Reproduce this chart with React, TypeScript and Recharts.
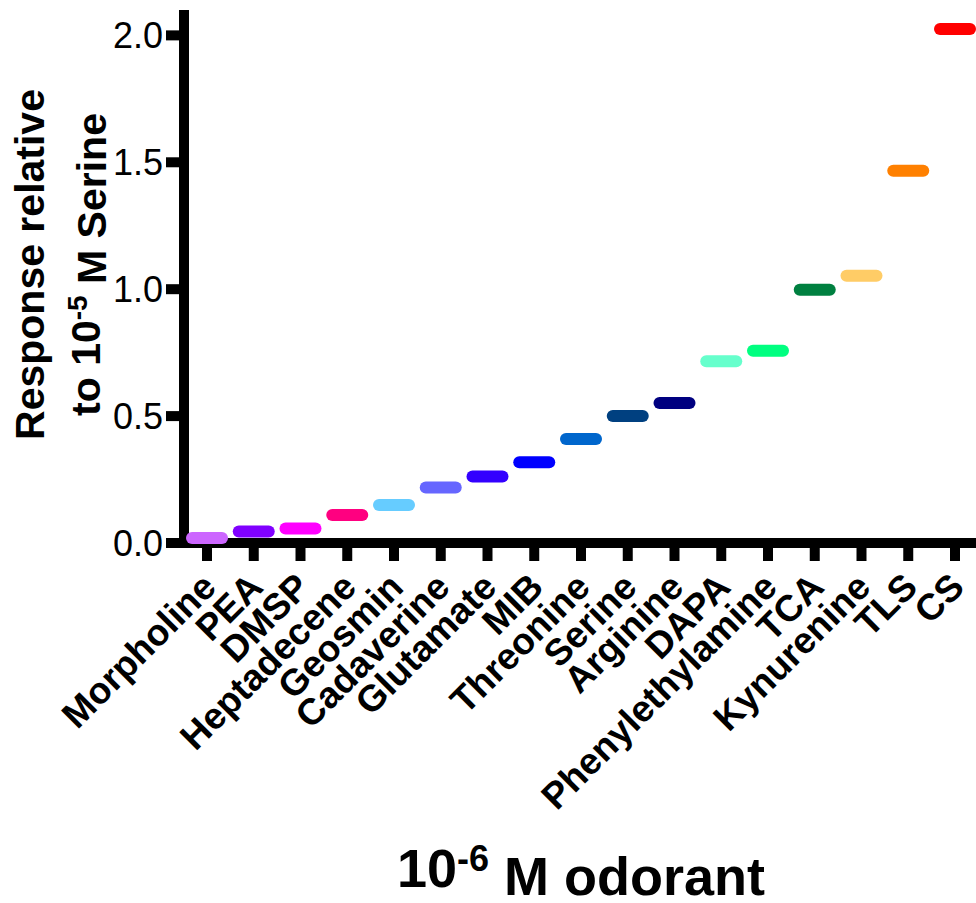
import React from 'react';
import { ComposedChart, Scatter, XAxis, YAxis, Cell } from 'recharts';

const categories = [
  'Morpholine', 'PEA', 'DMSP', 'Heptadecene', 'Geosmin', 'Cadaverine', 'Glutamate', 'MIB',
  'Threonine', 'Serine', 'Arginine', 'DAPA', 'Phenylethylamine', 'TCA', 'Kynurenine', 'TLS', 'CS',
];
const responses = [
  0.02, 0.045, 0.057, 0.11, 0.15, 0.219, 0.262, 0.318,
  0.41, 0.5, 0.552, 0.716, 0.757, 0.998, 1.053, 1.467, 2.025,
];
const colors = [
  '#CC66FF', '#8000FF', '#FF00FF', '#FF0080', '#66CCFF', '#6666FF', '#3300FF', '#0000FF',
  '#0066CC', '#004080', '#000080', '#66FFCC', '#00FF80', '#008040', '#FFCC66', '#FF8000', '#FF0000',
];
const yTicks = [0, 0.5, 1.0, 1.5, 2.0];

const data = categories.map((name, i) => ({ name, value: responses[i], color: colors[i] }));

const FONT = '"Liberation Sans", Arial, Helvetica, sans-serif';

function MeanLine(props: any) {
  const { cx, cy } = props;
  const color = props.payload?.color ?? props.fill;
  if (cx == null || cy == null) return null;
  return (
    <line x1={cx - 15} x2={cx + 15} y1={cy} y2={cy} stroke={color} strokeWidth={12} strokeLinecap="round" />
  );
}

function OdorantTick(props: any) {
  const { x, y, payload } = props;
  const ax = x + 2;
  return (
    <text
      x={ax}
      y={y}
      transform={`rotate(-45 ${ax} ${y})`}
      textAnchor="end"
      dy="0.35em"
      fontFamily={FONT}
      fontWeight="bold"
      fontSize={37}
      fill="#000"
    >
      {payload.value}
    </text>
  );
}

function YTitle(props: any) {
  const vb = props.viewBox;
  const cy = vb.y + vb.height / 2 - 12;
  return (
    <g fontFamily={FONT} fontWeight="bold" fontSize={41} fill="#000">
      <text transform="rotate(-90)" x={-cy} y={44} textAnchor="middle">Response relative</text>
      <text transform="rotate(-90)" x={-cy} y={100} textAnchor="middle">
        to 10<tspan dy="-0.45em" fontSize={28}>-5</tspan><tspan dy="0.45em"> M Serine</tspan>
      </text>
    </g>
  );
}

function XTitle(props: any) {
  const vb = props.viewBox;
  const cx = vb.x + vb.width / 2;
  return (
    <text x={cx} y={vb.y + 344} textAnchor="middle" fontFamily={FONT} fontWeight="bold" fontSize={54} fill="#000">
      10<tspan dy="-0.45em" fontSize={36}>-6</tspan><tspan dy="0.45em"> M odorant</tspan>
    </text>
  );
}

export default function App() {
  return (
    <div style={{ position: 'absolute', left: 0, top: 0 }}>
      <ComposedChart width={976} height={903} data={data} margin={{ top: 10, right: -2, bottom: 0, left: 0 }}>
        <XAxis
          dataKey="name"
          type="category"
          interval={0}
          height={360}
          padding={{ left: 23, right: 23 }}
          axisLine={{ stroke: '#000', strokeWidth: 10, strokeLinecap: 'square' }}
          tickLine={{ stroke: '#000', strokeWidth: 10 }}
          tickSize={18}
          tickMargin={19}
          tick={<OdorantTick />}
          label={{ content: XTitle }}
        />
        <YAxis
          type="number"
          domain={[0, 2.1]}
          ticks={yTicks}
          width={184}
          axisLine={{ stroke: '#000', strokeWidth: 10 }}
          tickLine={{ stroke: '#000', strokeWidth: 10 }}
          tickSize={18}
          tickMargin={3}
          tickFormatter={(v: number) => v.toFixed(1)}
          tick={{ fill: '#000', fontSize: 36, fontFamily: FONT }}
          label={{ content: YTitle }}
        />
        <Scatter dataKey="value" shape={MeanLine} isAnimationActive={false}>
          {data.map((d) => (
            <Cell key={d.name} fill={d.color} />
          ))}
        </Scatter>
      </ComposedChart>
    </div>
  );
}
